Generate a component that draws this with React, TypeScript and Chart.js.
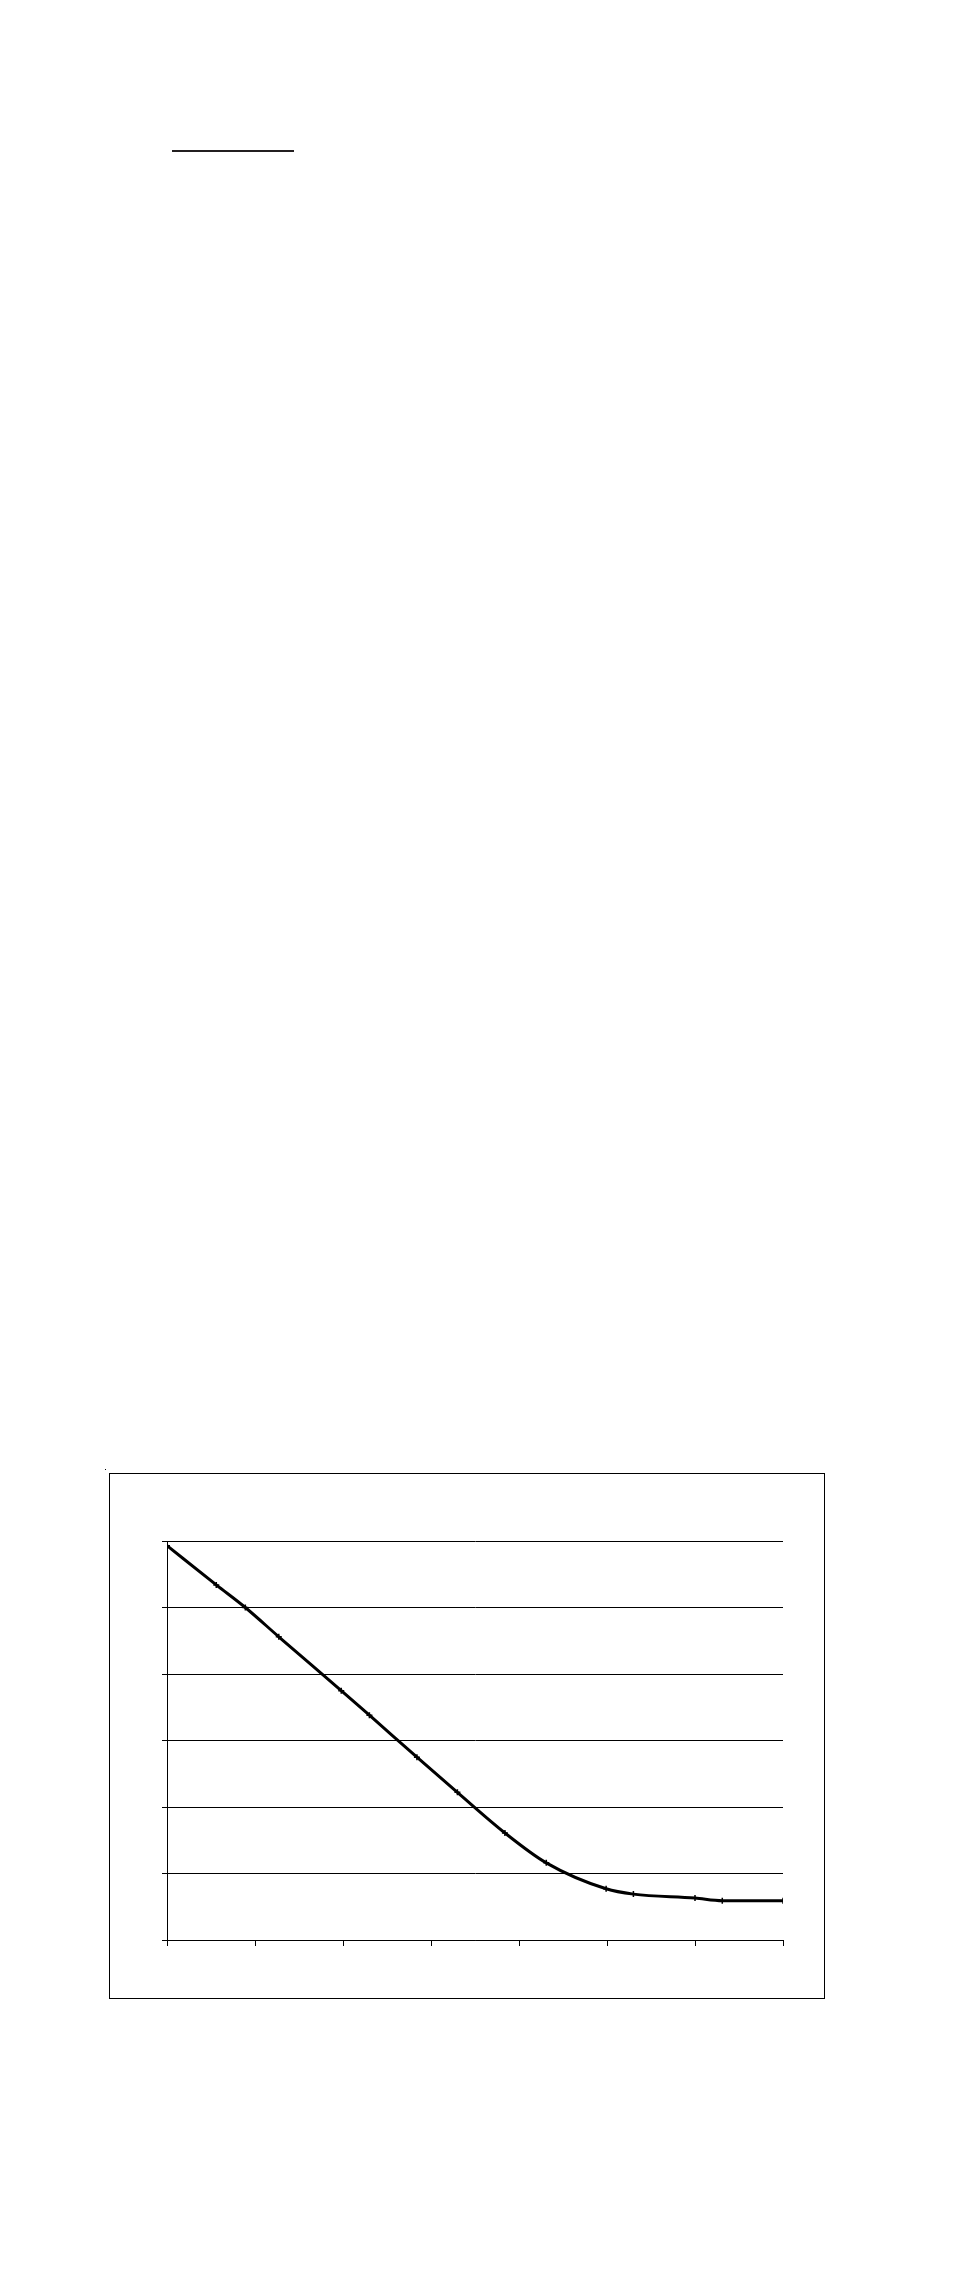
import React, { useEffect, useRef } from 'react';
import { Chart, registerables, type ChartOptions } from 'chart.js';

Chart.register(...registerables);

// valeurs (axe x : 0..7, axe y : 0..6)
const xValues = [0, 0.56, 0.89, 1.27, 1.98, 2.3, 2.84, 3.3, 3.84, 4.31, 4.99, 5.3, 6.0, 6.31, 7.0];
const yValues = [5.93, 5.34, 5.0, 4.56, 3.75, 3.38, 2.75, 2.22, 1.61, 1.16, 0.77, 0.69, 0.63, 0.59, 0.59];
const xTicks = [0, 1, 2, 3, 4, 5, 6, 7];
const yTicks = [0, 1, 2, 3, 4, 5, 6];

const buildOptions = (): ChartOptions<'scatter'> => ({
  responsive: false,
  animation: false,
  devicePixelRatio: 1,
  layout: { padding: { left: 52, top: 67, right: 41, bottom: 52 } },
  plugins: { legend: { display: false }, tooltip: { enabled: false } },
  scales: {
    x: {
      type: 'linear',
      min: xTicks[0],
      max: xTicks[xTicks.length - 1],
      afterBuildTicks: (s) => {
        s.ticks = xTicks.map((v) => ({ value: v }));
      },
      afterFit: (s) => {
        s.height = 6;
      },
      ticks: { display: false },
      grid: { drawOnChartArea: false, drawTicks: true, tickLength: 6, color: '#000', lineWidth: 1 },
      border: { display: true, color: '#000', width: 1 },
    },
    y: {
      type: 'linear',
      min: yTicks[0],
      max: yTicks[yTicks.length - 1],
      afterBuildTicks: (s) => {
        s.ticks = yTicks.map((v) => ({ value: v }));
      },
      afterFit: (s) => {
        s.width = 5;
      },
      ticks: { display: false },
      grid: { drawOnChartArea: true, drawTicks: true, tickLength: 5, color: '#000', lineWidth: 1 },
      border: { display: true, color: '#000', width: 1 },
    },
  },
});

const CurveChart: React.FC = () => {
  const canvasRef = useRef<HTMLCanvasElement>(null);
  const chartRef = useRef<Chart<'scatter'> | null>(null);

  useEffect(() => {
    if (!canvasRef.current) return;
    chartRef.current?.destroy();
    chartRef.current = new Chart(canvasRef.current, {
      type: 'scatter',
      data: {
        datasets: [
          {
            data: xValues.map((x, i) => ({ x, y: yValues[i] })),
            showLine: true,
            borderColor: '#000',
            borderWidth: 3,
            cubicInterpolationMode: 'monotone',
            pointStyle: 'cross',
            pointRadius: 3,
            pointBorderWidth: 1.5,
            pointBorderColor: '#000',
            pointBackgroundColor: '#000',
          },
        ],
      },
      options: buildOptions(),
    });
    return () => {
      chartRef.current?.destroy();
      chartRef.current = null;
    };
  }, []);

  return <canvas ref={canvasRef} width={714} height={524} style={{ display: 'block', width: 714, height: 524 }} />;
};

export default function App() {
  return (
    <div style={{ position: 'absolute', left: 0, top: 0, width: 954, height: 2279, background: '#fff' }}>
      {/* trait en haut de page */}
      <div style={{ position: 'absolute', left: 172, top: 150, width: 122, height: 2, background: '#231f20' }} />
      {/* petit point au coin du cadre */}
      <div style={{ position: 'absolute', left: 105, top: 1469, width: 1, height: 1, background: '#000' }} />
      {/* cadre du graphique */}
      <div style={{ position: 'absolute', left: 109, top: 1473, width: 714, height: 524, border: '1px solid #000' }}>
        <CurveChart />
      </div>
    </div>
  );
}
